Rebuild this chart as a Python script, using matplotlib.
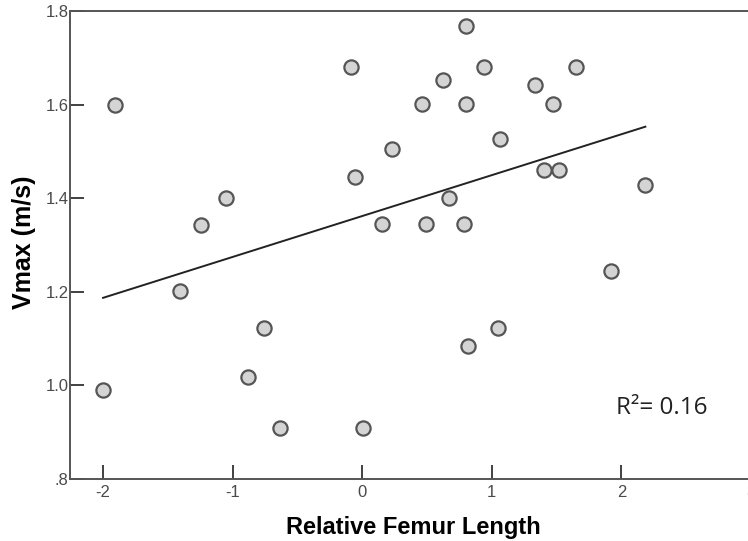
import numpy as np
import matplotlib
matplotlib.use("Agg")
import matplotlib.pyplot as plt

# relative femur length vs vmax
femur = [-1.91, -2.00, -1.405, -1.243, -1.05, -0.757, -0.88, -0.633,
         -0.085, -0.054, 0.008, 0.154, 0.232, 0.463, 0.494, 0.625,
         0.672, 0.803, 0.803, 0.788, 0.819, 0.942, 1.06, 1.050,
         1.336, 1.475, 1.405, 1.521, 1.653, 1.923, 2.185]
vmax = [1.600, 0.990, 1.202, 1.343, 1.401, 1.123, 1.018, 0.909,
        1.681, 1.446, 0.909, 1.345, 1.506, 1.602, 1.345, 1.653,
        1.401, 1.769, 1.602, 1.345, 1.085, 1.681, 1.527, 1.123,
        1.641, 1.602, 1.461, 1.461, 1.681, 1.245, 1.429]

xticks = [-2, -1, 0, 1, 2, 3]
xticklabels = ["-2", "-1", "0", "1", "2", "3"]
yticks = [0.8, 1.0, 1.2, 1.4, 1.6, 1.8]
yticklabels = [".8", "1.0", "1.2", "1.4", "1.6", "1.8"]
r2_text = "R²= 0.16"

plt.rcParams["font.family"] = ["Liberation Sans", "DejaVu Sans"]

fig = plt.figure(figsize=(7.48, 5.41), dpi=100)
ax = fig.add_axes([70/748, 1 - 479/541, 1 - 70/748 + 0.004, (479 - 11)/541])

ax.scatter(femur, vmax, s=105, facecolor="#d4d4d4", edgecolor="#555555",
           linewidth=1.6, zorder=3)

fit = np.poly1d(np.polyfit(femur, vmax, 1))
xs = np.array([min(femur), max(femur)])
ax.plot(xs, fit(xs), color="#222222", linewidth=1.4, zorder=2)

ax.set_xlim(-2.255, 3.0)
ax.set_ylim(0.8, 1.8)
ax.set_xticks(xticks)
ax.set_xticklabels(xticklabels)
ax.set_yticks(yticks)
ax.set_yticklabels(yticklabels)
ax.tick_params(direction="in", length=10, width=1.3, color="#333333",
               labelsize=12, labelcolor="#4a4a4a")
ax.tick_params(axis="y", pad=1)
ax.tick_params(axis="x", pad=4)

for side in ["left", "bottom", "top"]:
    ax.spines[side].set_color("#555555")
    ax.spines[side].set_linewidth(1.4)
ax.spines["right"].set_visible(False)

ax.set_xlabel("Relative Femur Length", fontsize=17, fontweight="bold")
ax.set_ylabel("Vmax (m/s)", fontsize=18, fontweight="bold")
ax.xaxis.set_label_coords((412 - 70)/678, -(516 - 479)/468)
ax.yaxis.set_label_coords(-(70 - 36)/678, (479 - 242)/468)

ax.text(1.961, 0.952, r2_text, fontsize=17.5, family=["Open Sans", "DejaVu Sans"],
        va="center", ha="left", color="#222222")

fig.savefig("out.png", dpi=100)
